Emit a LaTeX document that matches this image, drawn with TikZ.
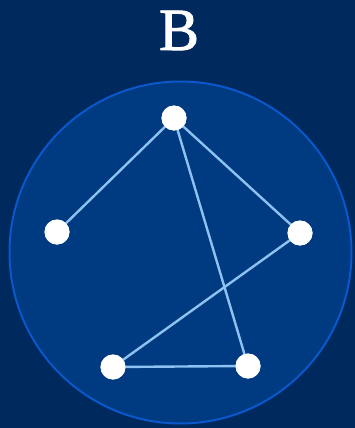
\documentclass[tikz,border=0pt]{standalone}
\usepackage{amsmath}
\usepackage{fontspec}
\setmainfont{Liberation Serif}
\usepackage{tikz}

\definecolor{navybg}{HTML}{002A5E}
\definecolor{diskfill}{HTML}{003A80}
\definecolor{diskline}{HTML}{0A58CC}
\definecolor{edgeblue}{HTML}{8EC2F2}

\begin{document}
\begin{tikzpicture}[x=1pt, y=-1pt, vtx/.style={circle, fill=white, inner sep=0pt, minimum size=25pt}, edge/.style={draw=edgeblue, line width=2.4pt}]
		\fill[navybg] (0,0) rectangle (355,428);
		\useasboundingbox (0,0) rectangle (355,428);
		\draw[fill=diskfill, draw=diskline, line width=2pt] (180.5,252.5) circle (171);
		\node[text=white, font=\fontsize{60}{60}\selectfont, inner sep=0pt, anchor=base] (title) at (179,50) {\addfontfeature{FakeBold=1.5}B};
		
		\node[vtx] (top) at (174,118) {};
		\node[vtx] (left) at (57,232) {};
		\node[vtx] (right) at (300,233) {};
		\node[vtx] (bl) at (113,367) {};
		\node[vtx] (br) at (248,366) {};
		
		\draw[edge] (top.center) -- (left.center);
		\draw[edge] (top.center) -- (right.center);
		\draw[edge] (top.center) -- (br.center);
		\draw[edge] (right.center) -- (bl.center);
		\draw[edge] (bl.center) -- (br.center);
		\foreach \v in {top,left,right,bl,br}
			\fill[white] (\v) circle (12.5);
	\end{tikzpicture}
\end{document}
